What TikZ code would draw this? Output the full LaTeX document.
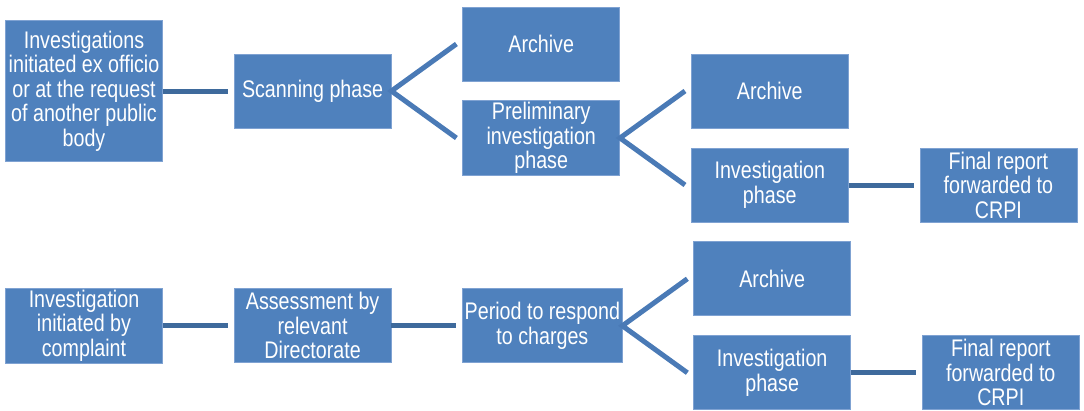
\documentclass[tikz,border=0pt]{standalone}
\usepackage{fontspec}
\setmainfont{Liberation Sans}[FakeStretch=0.82]
\usetikzlibrary{positioning}
\definecolor{boxblue}{HTML}{4F81BD}
\definecolor{boxedge}{HTML}{7FA2D2}
\definecolor{linkdark}{HTML}{3E6A9C}
\definecolor{linkblue}{HTML}{4A7AB6}

\begin{document}
\begin{tikzpicture}[
  stage/.style={rectangle, fill=boxblue, draw=boxedge, line width=0.6pt,
                minimum width=157pt, minimum height=74pt, inner sep=2pt,
                font=\fontsize{24}{24.5}\selectfont, text=white, align=center},
  link/.style={draw=linkdark, line width=5pt},
  fork/.style={draw=linkblue, line width=5pt},
]
  \useasboundingbox (0,0) rectangle (1084pt,-410pt);

  % upper track
  \node[stage, minimum height=141pt] (exofficio) at (84pt,-91pt)
    {Investigations\\initiated ex officio\\or at the request\\of another public\\body};
  \node[stage, right=71pt of exofficio] (scanning) {Scanning phase};
  \node[stage, right=71pt of scanning, yshift=47pt] (archiveA) {Archive};
  \node[stage, right=71pt of scanning, yshift=-47pt] (prelim) {Preliminary\\investigation\\phase};
  \node[stage, right=71pt of prelim, yshift=47pt] (archiveB) {Archive};
  \node[stage, right=71pt of prelim, yshift=-47pt] (investA) {Investigation\\phase};
  \node[stage, right=71pt of investA] (reportA) {Final report\\forwarded to\\CRPI};

  % lower track
  \node[stage, below=126pt of exofficio] (complaint) {Investigation\\initiated by\\complaint};
  \node[stage, right=71pt of complaint] (assess) {Assessment by\\relevant\\Directorate};
  \node[stage, right=71pt of assess] (respond) {Period to respond\\to charges};
  \node[stage, right=71pt of respond, yshift=47pt] (archiveC) {Archive};
  \node[stage, right=71pt of respond, yshift=-47pt] (investB) {Investigation\\phase};
  \node[stage, right=71pt of investB] (reportB) {Final report\\forwarded to\\CRPI};

  \draw[link] (exofficio.east) -- ([xshift=-6pt]scanning.west);
  \draw[fork] ([xshift=-6pt]archiveA.west) -- (scanning.east) -- ([xshift=-6pt]prelim.west);
  \draw[fork] ([xshift=-6pt]archiveB.west) -- (prelim.east) -- ([xshift=-6pt]investA.west);
  \draw[link] (investA.east) -- ([xshift=-6pt]reportA.west);

  \draw[link] (complaint.east) -- ([xshift=-6pt]assess.west);
  \draw[link] (assess.east) -- ([xshift=-6pt]respond.west);
  \draw[fork] ([xshift=-6pt]archiveC.west) -- (respond.east) -- ([xshift=-6pt]investB.west);
  \draw[link] (investB.east) -- ([xshift=-6pt]reportB.west);
\end{tikzpicture}
\end{document}
